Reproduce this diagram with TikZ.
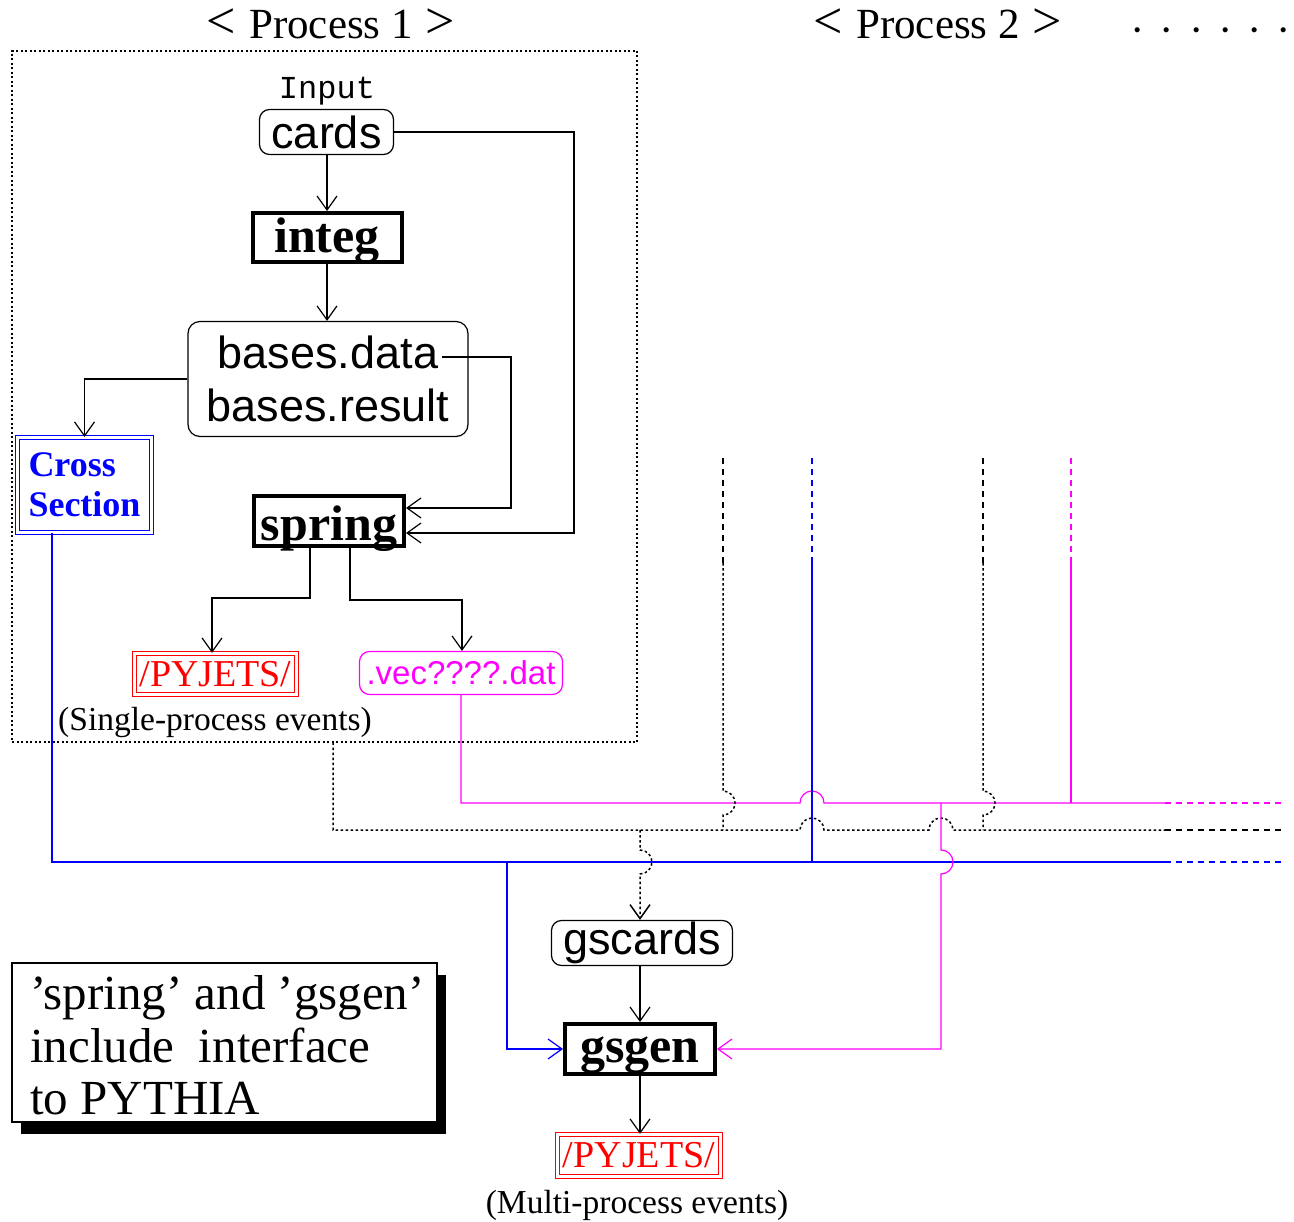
\documentclass[tikz,border=0pt]{standalone}
\usepackage{fontspec}
\setmainfont{Liberation Serif}
\setsansfont{Liberation Sans}
\setmonofont{Liberation Mono}
\usetikzlibrary{arrows.meta,shadows}

\definecolor{busblue}{RGB}{0,0,255}
\definecolor{busmag}{RGB}{255,0,255}
\definecolor{pyred}{RGB}{255,0,0}

\newcommand\dotgap{\hspace{14.9pt}}
\newcommand\bigrel[1]{{\fontsize{52}{52}\selectfont #1}}
\newcommand\indentline{\hspace*{6pt}}

\tikzset{
  wire/.style={line width=1.2pt},
  arr/.style={wire,-{Straight Barb[length=14pt,width=20pt]}},
  dotline/.style={line width=1.5pt,dash pattern=on 2.5pt off 2.5pt},
  dashline/.style={line width=1.2pt,dash pattern=on 6pt off 5pt},
  dotframe/.style={draw,line width=1.2pt,dash pattern=on 2pt off 2.5pt,inner sep=0pt},
  filebox/.style={draw,line width=1.2pt,rounded corners=10pt,inner sep=0pt,
    font=\sffamily\fontsize{45}{53}\selectfont},
  progbox/.style={draw,line width=4pt,inner sep=0pt,text height=38pt,text depth=7pt,
    font=\bfseries\fontsize{50}{55}\selectfont},
  commonbox/.style={draw=pyred,text=pyred,line width=1.2pt,double,double distance=2.5pt,
    inner sep=0pt,font=\fontsize{38}{42}\selectfont},
  resultbox/.style={draw=busblue,text=busblue,line width=1.2pt,double,double distance=2.5pt,
    inner sep=0pt,align=left,font=\bfseries\fontsize{36}{40}\selectfont},
  capt/.style={anchor=base,font=\fontsize{33.5}{38}\selectfont},
  headline/.style={anchor=base,font=\fontsize{43}{46}\selectfont},
  bridge/.style={radius=12pt},
}

\begin{document}
\begin{tikzpicture}[x=1pt,y=-1pt]
\useasboundingbox (0,0) rectangle (1294,1222);

% headings
\node[headline] (head1) at (331,39) {\bigrel{<}\hspace{13pt}Process 1\hspace{13pt}\bigrel{>}};
\node[headline] (head2) at (938,39) {\bigrel{<}\hspace{13pt}Process 2\hspace{13pt}\bigrel{>}};
\node[headline] (more) at (1211,45) {·\dotgap·\dotgap·\dotgap·\dotgap·\dotgap·};

% single-process block
\node[dotframe,minimum width=625pt,minimum height=691pt] (frame1) at (324.5,396.5) {};

\node[anchor=base,font=\ttfamily\fontsize{32}{36}\selectfont] (inp) at (327,99) {Input};
\node[filebox,minimum width=134pt,minimum height=45pt] (cards) at (326.5,132) {cards};
\node[progbox,minimum width=149pt,minimum height=49pt] (integ) at (327,237.5) {integ};
\node[filebox,rounded corners=12pt,minimum width=280pt,minimum height=115pt,align=center]
  (bases) at (328,379) {bases.data\\bases.result};
\node[resultbox,minimum width=134pt,minimum height=95pt] (xsec) at (84.5,485) {Cross\\Section};
\node[progbox,text height=42pt,text depth=4pt,minimum width=150pt,minimum height=50pt]
  (spring) at (329,521) {spring};
\node[commonbox,minimum width=162pt,minimum height=41pt] (pyj1) at (215.5,674) {/PYJETS/};
\node[capt] (ev1) at (215,730) {(Single-process events)};
\node[filebox,draw=busmag,text=busmag,font=\sffamily\fontsize{33}{38}\selectfont,
  minimum width=203pt,minimum height=43pt] (vec) at (461,673) {.vec????.dat};

% multi-process block
\node[filebox,minimum width=181pt,minimum height=45pt] (gscards) at (642,943) {gscards};
\node[progbox,text height=36pt,text depth=10pt,minimum width=150pt,minimum height=50pt]
  (gsgen) at (640,1049) {gsgen};
\node[commonbox,minimum width=163pt,minimum height=42pt] (pyj2) at (639,1155.5) {/PYJETS/};
\node[capt] (ev2) at (637,1213) {(Multi-process events)};

% remark
\node[draw,fill=white,line width=1.5pt,minimum width=425pt,minimum height=159pt,inner sep=0pt,
  align=left,font=\fontsize{49}{52.5}\selectfont,
  drop shadow={shadow xshift=9pt,shadow yshift=-12pt,opacity=1,fill=black}]
  (note) at (224.5,1042.5)
  {\indentline\rule{0pt}{40pt}'spring' and 'gsgen'\\\indentline include\ \ interface\\\indentline to PYTHIA};

% flow inside process 1
\draw[arr] (integ.north |- cards.south) -- (integ.north);
\draw[arr] (integ.south) -- (integ.south |- bases.north);
\draw[arr] (bases.west) -| (xsec.north);
\coordinate (bd) at (442,357);
\coordinate (bdturn) at (511,357);
\draw[arr] (bd) -- (bdturn) |- ([yshift=13pt]spring.east);
\coordinate (cdturn) at (574,132);
\draw[arr] (cards.east) -- (cdturn) |- ([yshift=-12pt]spring.east);
\draw[arr] ([xshift=-19pt]spring.south) -- ++(0,50) -| ([xshift=-3.5pt]pyj1.north);
\draw[arr] ([xshift=21pt]spring.south) -- ++(0,52) -| ([xshift=1pt]vec.north);

% collecting lines
\coordinate (magEnd) at (1165,803);
\coordinate (magOut) at (1285,803);
\coordinate (dotEnd) at (1165,830);
\coordinate (dotOut) at (1285,830);
\coordinate (bluEnd) at (1165,862);
\coordinate (bluOut) at (1285,862);

% event files (magenta)
\draw[wire,busmag] (vec.south) |- (800,803) arc[start angle=180,end angle=0,bridge] -- (magEnd);
\draw[dashline,busmag] (magEnd) -- (magOut);

% input cards (dotted)
\draw[dotline] ([xshift=8.5pt]frame1.south) |- (800,830) arc[start angle=180,end angle=0,bridge]
  -- (929,830) arc[start angle=180,end angle=0,bridge] -- (dotEnd);
\draw[dashline] (dotEnd) -- (dotOut);

% cross sections (blue)
\draw[wire,busblue] ([xshift=-32.5pt]xsec.south) |- (bluEnd);
\draw[dashline,busblue] (bluEnd) -- (bluOut);

% lines coming from process 2
\draw[dashline] (723,458) -- (723,563);
\draw[dotline] (723,563) -- (723,791) arc[start angle=90,end angle=-90,bridge] -- (723,830);
\draw[dashline,busblue] (812,458) -- (812,563);
\draw[wire,busblue] (812,563) -- (812,862);
\draw[dashline] (983,458) -- (983,563);
\draw[dotline] (983,563) -- (983,791) arc[start angle=90,end angle=-90,bridge] -- (983,830);
\draw[dashline,busmag] (1071,458) -- (1071,563);
\draw[wire,busmag] (1071,563) -- (1071,803);

% into gsgen
\draw[arr,busblue] (507,862) |- (gsgen.west);
\draw[arr,busmag] (941,803) -- (941,850) arc[start angle=90,end angle=-90,bridge] |- (gsgen.east);
\draw[dotline,-{Straight Barb[length=14pt,width=20pt]}] (640,830) -- (640,850)
  arc[start angle=90,end angle=-90,bridge] -- ([xshift=-2pt]gscards.north);
\draw[arr] (gsgen.north |- gscards.south) -- (gsgen.north);
\draw[arr] (gsgen.south) -- (gsgen.south |- pyj2.north);
\end{tikzpicture}
\end{document}
